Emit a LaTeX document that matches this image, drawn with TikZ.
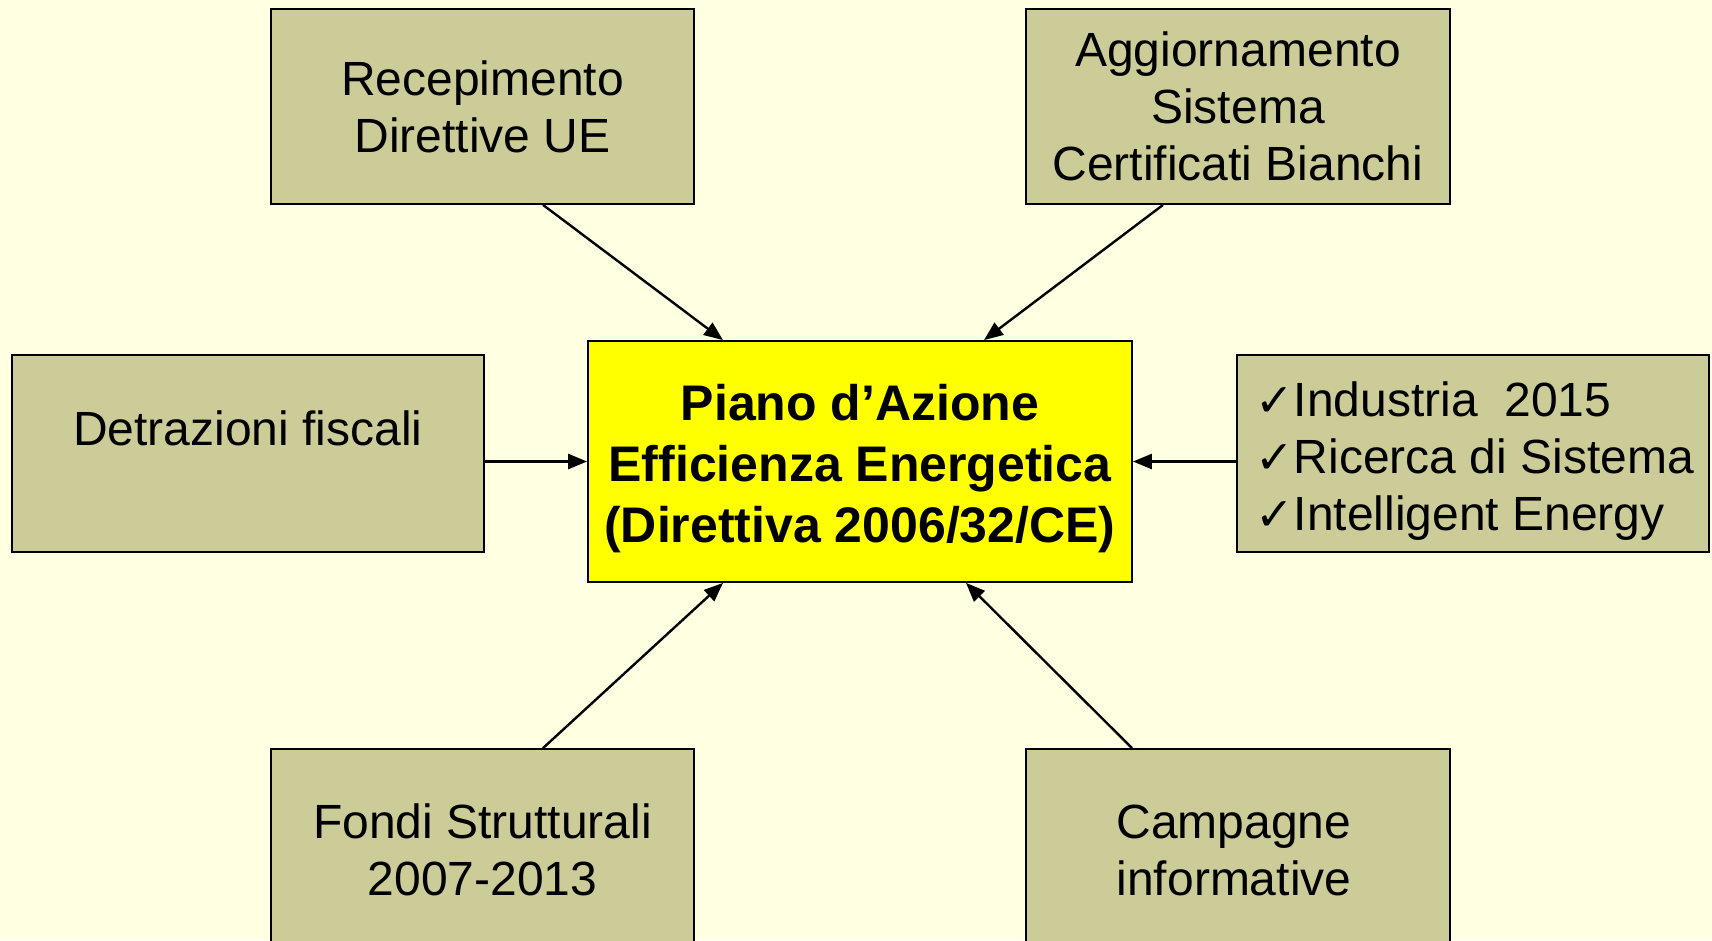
\documentclass[tikz,border=0pt]{standalone}
\usepackage{fontspec}
\setmainfont{Liberation Sans}
\newfontfamily\symfont{DejaVu Sans}
\usetikzlibrary{arrows.meta,calc}
\definecolor{bg}{RGB}{255,255,225}
\definecolor{boxfill}{RGB}{204,204,153}
\definecolor{hot}{RGB}{255,255,0}
\tikzset{
  box/.style={draw=black, line width=1.8pt, fill=boxfill, inner sep=0pt, align=center,
    font=\fontsize{48}{57}\selectfont},
  hub/.style={draw=black, line width=1.8pt, fill=hot, inner sep=0pt},
  hubtext/.style={inner sep=0pt, align=center, font=\fontsize{50}{61}\selectfont\bfseries},
  lbl/.style={inner sep=0pt, align=center, font=\fontsize{48}{57}\selectfont},
  tip/.tip={Triangle[length=19pt,width=15pt]},
  conn/.style={line width=2.4pt, arrows={-tip}}
}
\newcommand{\ck}{{\symfont\fontsize{46}{57}\selectfont ✓}}
\begin{document}
\begin{tikzpicture}[x=1pt,y=-1pt]
\useasboundingbox (0,0) rectangle (1712,940);
\clip (0,0) rectangle (1712,940);
\fill[bg] (0,0) rectangle (1712,940);
\node[box, minimum width=423pt, minimum height=195pt] (b1) at (482.5,106.5) {Recepimento\\Direttive UE};
\node[box, minimum width=424pt, minimum height=195pt] (b2) at (1238,106.5) {Aggiornamento\\Sistema\\Certificati Bianchi};
\node[box, minimum width=472pt, minimum height=197pt] (b3) at (248,453.5) {};
\node[lbl] (t3) at (248,428) {Detrazioni fiscali};
\node[hub, minimum width=544pt, minimum height=241pt] (c) at (860,461.5) {};
\node[hubtext] (tc) at (860,469) {Piano d’Azione\\Efficienza Energetica\\(Direttiva 2006/32/CE)};
\node[box, minimum width=472pt, minimum height=197pt] (b4) at (1473,453.5) {};
\node[lbl, align=left, anchor=west] (t4) at (1255,461) {\ck Industria\ \ 2015\\\ck Ricerca di Sistema\\\ck Intelligent Energy};
\node[box, minimum width=423pt, minimum height=220pt] (b5) at (482.5,859) {};
\node[lbl] (t5) at (482.5,850) {Fondi Strutturali\\2007-2013};
\node[box, minimum width=424pt, minimum height=220pt] (b6) at (1238,859) {};
\node[lbl] (t6) at (1234,850) {Campagne\\informative};
\draw[conn] ([xshift=60.5pt]b1.south) -- ([xshift=-137pt]c.north);
\draw[conn] ([xshift=-75pt]b2.south) -- ([xshift=124pt]c.north);
\draw[conn] (b3.east |- c.center) -- (c.west);
\draw[conn] (b4.west |- c.center) -- (c.east);
\draw[conn] ([xshift=60.5pt]b5.north) -- ([xshift=-137pt]c.south);
\draw[conn] ([xshift=-106pt]b6.north) -- ([xshift=106pt]c.south);
\end{tikzpicture}
\end{document}
